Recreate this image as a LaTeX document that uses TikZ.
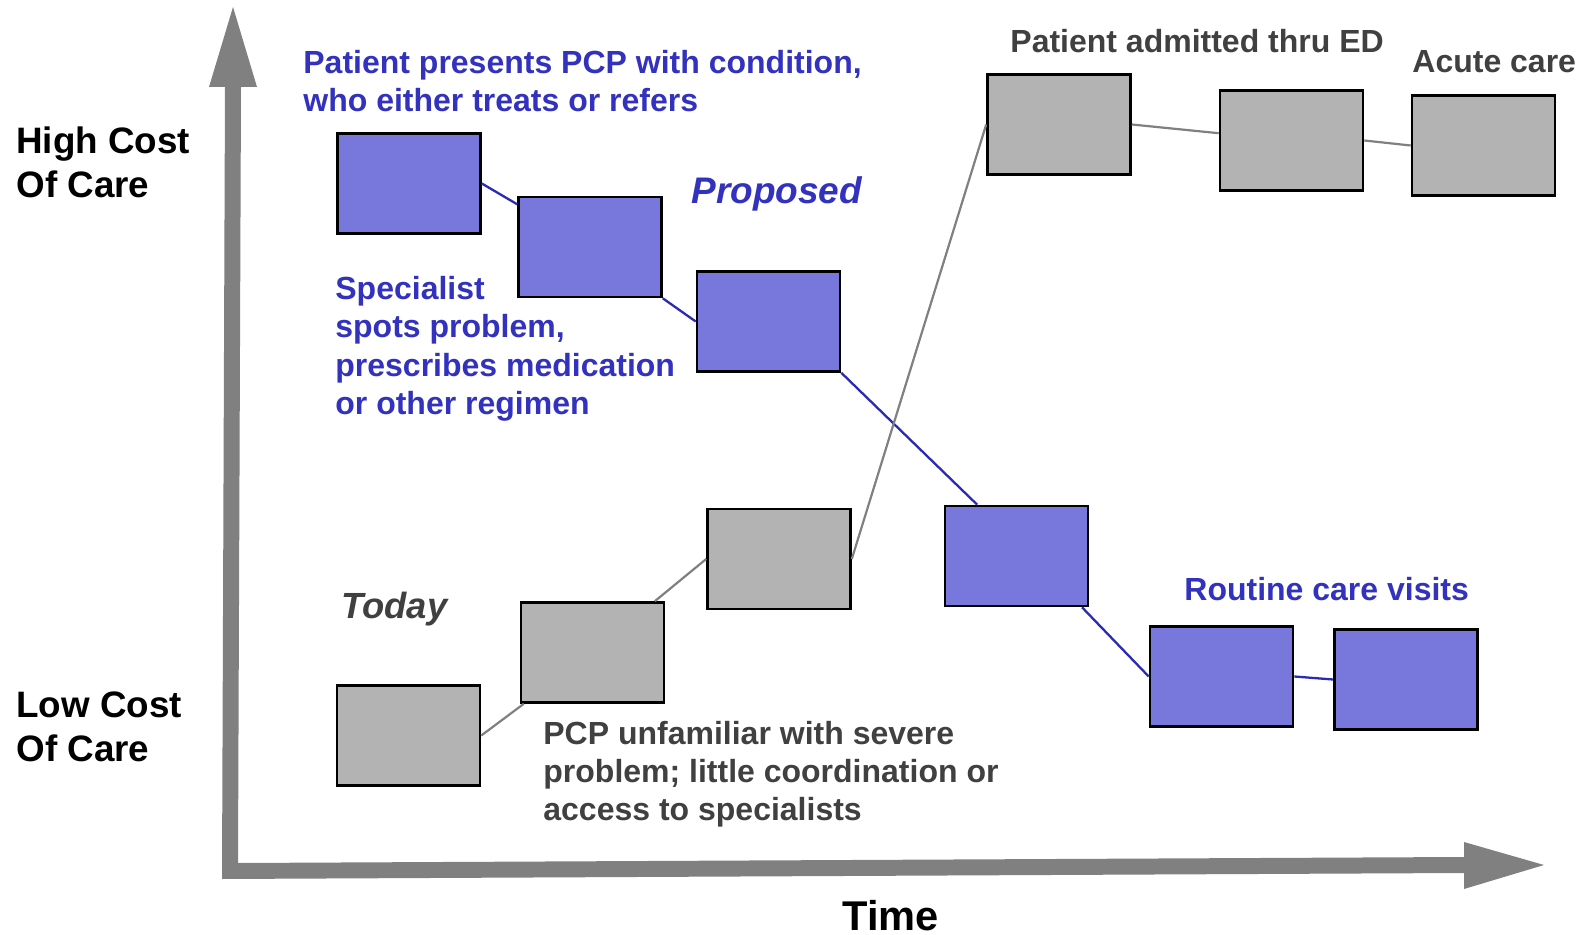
\documentclass[tikz,border=0pt]{standalone}
\usepackage{fontspec}
\setmainfont{Liberation Sans}
\usetikzlibrary{calc}

\definecolor{textblue}{HTML}{3232BE}
\definecolor{boxblue}{HTML}{7878DC}
\definecolor{boxgray}{HTML}{B3B3B3}
\definecolor{textgray}{HTML}{404040}
\definecolor{linegray}{HTML}{808080}
\definecolor{lineblue}{HTML}{2A2AB4}
\definecolor{axisgray}{HTML}{808080}

\tikzset{
  stagebox/.style={draw=black, line width=1.3pt, minimum width=71.5pt,
    minimum height=50pt, inner sep=0pt},
  bluebox/.style={stagebox, fill=boxblue},
  graybox/.style={stagebox, fill=boxgray},
  blueline/.style={draw=lineblue, line width=1.15pt},
  grayline/.style={draw=linegray, line width=1.1pt},
  label/.style={anchor=north west, inner sep=0pt, align=left,
    font=\bfseries\fontsize{16}{19.2}\selectfont},
  bluelabel/.style={label, text=textblue},
  graylabel/.style={label, text=textgray},
  axislabel/.style={anchor=north west, inner sep=0pt, align=left, text=black,
    font=\bfseries\fontsize{18.4}{22.25}\selectfont},
}

\begin{document}
\begin{tikzpicture}[x=0.5pt, y=-0.5pt]
\useasboundingbox (0,0) rectangle (1585,935);

% axes: one filled outline for both arrows
\fill[axisgray] (222,879) -- (225,87) -- (209,87) -- (233,7) -- (257,87)
  -- (241,87) -- (238,863) -- (1464,857) -- (1464,842) -- (1544,865)
  -- (1464,889) -- (1464,873) -- cycle;

% axis labels
\node[axislabel] (high) at (16,126) {High Cost\\Of Care};
\node[axislabel] (low) at (16,691) {Low Cost\\Of Care};
\node[anchor=base, inner sep=0pt, font=\bfseries\fontsize{20.8}{25}\selectfont]
  (time) at (890.5,930) {Time};

% proposed pathway
\node[bluebox] (B1) at (409,183.5) {};
\node[bluebox] (B2) at (590,247) {};
\node[bluebox] (B3) at (768.5,321.5) {};
\node[bluebox] (B4) at (1016.5,556) {};
\node[bluebox] (B5) at (1221.5,676.5) {};
\node[bluebox] (B6) at (1406,679.5) {};

% current pathway
\node[graybox] (G1) at (408.5,735.5) {};
\node[graybox] (G2) at (592.5,652.5) {};
\node[graybox] (G3) at (779,559) {};
\node[graybox] (G4) at (1059,124.5) {};
\node[graybox] (G5) at (1291.5,140.5) {};
\node[graybox] (G6) at (1483.5,145.5) {};

% links, proposed
\draw[blueline] (B1.east) -- (B2);
\draw[blueline] (B2) -- (B3.west);
\draw[blueline] (B3.south east) -- ($(B4.north west)!0.23!(B4.north east)$);
\draw[blueline] ($(B4.south west)!0.95!(B4.south east)$) -- (B5.west);
\draw[blueline] (B5.east) -- (B6.west);

% links, current
\draw[grayline] (G1.east) -- (G2);
\draw[grayline] (G2) -- (G3.west);
\draw[grayline] (G3.east) -- (G4.west);
\draw[grayline] (G4.east) -- (G5);
\draw[grayline] (G5.east) -- (G6.west);

% annotations
\node[bluelabel] (present) at (303,50)
  {Patient presents PCP with condition,\\who either treats or refers};
\node[bluelabel] (special) at (335,276)
  {Specialist\\spots problem,\\prescribes medication\\or other regimen};
\node[bluelabel] (routine) at (1184,577) {Routine care visits};
\node[anchor=north west, inner sep=0pt, text=textblue,
  font=\bfseries\itshape\fontsize{18.5}{22}\selectfont] (proposed) at (691,176.5) {Proposed};

\node[graylabel] (admit) at (1010,28.5) {Patient admitted thru ED};
\node[graylabel] (acute) at (1412,50) {Acute care};
\node[graylabel] (unfam) at (543,720.5)
  {PCP unfamiliar with severe\\problem; little coordination or\\access to specialists};
\node[anchor=north west, inner sep=0pt, text=textgray,
  font=\bfseries\itshape\fontsize{18.2}{22}\selectfont] (today) at (341,591.5) {Today};
\end{tikzpicture}
\end{document}
